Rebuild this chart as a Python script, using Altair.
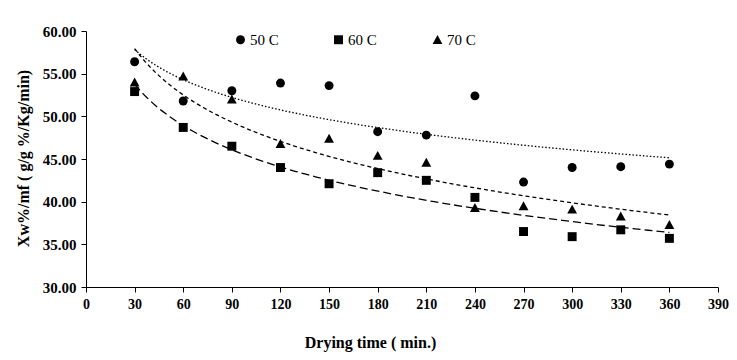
import altair as alt
import pandas as pd

times = [30, 60, 90, 120, 150, 180, 210, 240, 270, 300, 330, 360]
c50 = [56.4, 51.8, 53.0, 53.9, 53.6, 48.2, 47.8, 52.4, 42.3, 44.0, 44.1, 44.4]
c60 = [52.9, 48.7, 46.5, 44.0, 42.1, 43.4, 42.5, 40.5, 36.5, 35.9, 36.7, 35.7]
c70 = [54.0, 54.7, 52.0, 46.8, 47.4, 45.4, 44.6, 39.3, 39.5, 39.1, 38.3, 37.3]
series_names = ["50 C", "60 C", "70 C"]
x_ticks = list(range(0, 391, 30))
y_ticks = [30, 35, 40, 45, 50, 55, 60]

rows = []
for name, vals in zip(series_names, [c50, c60, c70]):
    for t, v in zip(times, vals):
        rows.append({"time": t, "value": v, "series": name})
df = pd.DataFrame(rows)

FONT = "Liberation Serif"
TRIANGLE = "M0,-1.05L1.1,0.95L-1.1,0.95Z"

x_enc = alt.X(
    "time:Q",
    scale=alt.Scale(domain=[0, 390], nice=False, zero=False),
    axis=alt.Axis(
        values=x_ticks, title="Drying time ( min.)", grid=False,
        domainColor="black", tickColor="black", tickSize=5,
        labelFont=FONT, labelFontWeight="bold", labelFontSize=14, labelColor="black",
        labelPadding=5, labelFlush=False, labelOverlap=False,
        titleFont=FONT, titleFontWeight="bold", titleFontSize=16, titleColor="black",
        titleX=284, titleY=55, titleBaseline="middle", titleAlign="center", titleAnchor="start",
    ),
)
y_enc = alt.Y(
    "value:Q",
    scale=alt.Scale(domain=[30, 60], nice=False, zero=False),
    axis=alt.Axis(
        values=y_ticks, format=".2f", title="Xw%/mf ( g/g %/Kg/min)", grid=False,
        domainColor="black", tickColor="black", tickSize=5,
        labelFont=FONT, labelFontWeight="bold", labelFontSize=15, labelColor="black",
        labelPadding=5, labelFlush=False, labelOverlap=False,
        titleFont=FONT, titleFontWeight="bold", titleFontSize=16, titleColor="black",
        titleX=-63, titleY=127, titleBaseline="middle", titleAlign="center", titleAngle=270,
        titleAnchor="start",
    ),
)

points = alt.Chart(df).mark_point(filled=True, color="black", size=80, opacity=1).encode(
    x=x_enc,
    y=y_enc,
    shape=alt.Shape(
        "series:N",
        scale=alt.Scale(domain=series_names, range=["circle", "square", TRIANGLE]),
        legend=alt.Legend(
            title=None, orient="none", direction="horizontal",
            legendX=147, legendY=1, padding=0,
            labelFont=FONT, labelFontSize=15, labelColor="black",
            labelOffset=2, columnPadding=52, symbolSize=80,
            symbolFillColor="black", symbolStrokeColor="black",
        ),
    ),
)

lines = alt.Chart(df).transform_regression(
    "time", "value", groupby=["series"], method="log"
).transform_calculate(
    fit="datum.series"
).mark_line(color="black", strokeWidth=1.3).encode(
    x="time:Q",
    y="value:Q",
    strokeDash=alt.StrokeDash(
        "fit:N",
        scale=alt.Scale(domain=series_names, range=[[1.5, 2], [8, 4], [4, 3]]),
        legend=None,
    ),
)

chart = alt.layer(lines, points).properties(
    width=632,
    height=256,
    autosize=alt.AutoSizeParams(type="none"),
    padding={"left": 78, "top": 23, "right": 11, "bottom": 65},
    background="white",
).resolve_legend(shape="independent", strokeDash="independent").configure_view(stroke=None)

chart.save("out.html", embed_options={"renderer": "svg", "actions": False})
